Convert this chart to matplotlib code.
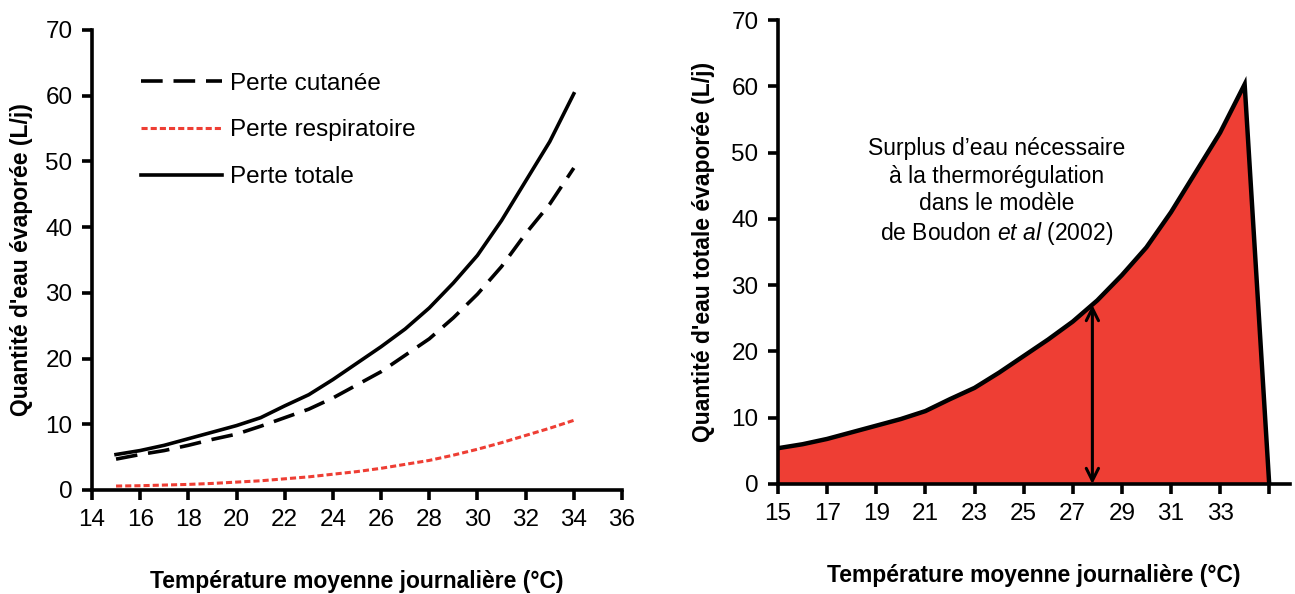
import numpy as np
import matplotlib
matplotlib.use("Agg")
import matplotlib.pyplot as plt

plt.rcParams['font.family'] = ['Liberation Sans', 'DejaVu Sans']
plt.rcParams['mathtext.fontset'] = 'custom'
plt.rcParams['mathtext.rm'] = 'Liberation Sans'
plt.rcParams['mathtext.it'] = 'Liberation Sans:italic'

# Data
temp = [15, 16, 17, 18, 19, 20, 21, 22, 23, 24, 25, 26, 27, 28, 29, 30, 31, 32, 33, 34]
perte_totale = [5.4, 6.0, 6.8, 7.8, 8.8, 9.8, 11.0, 12.8, 14.5, 16.8, 19.3, 21.8,
                24.5, 27.7, 31.5, 35.7, 41.0, 47.0, 53.0, 60.3]
perte_cutanee = [4.7, 5.4, 6.0, 6.8, 7.7, 8.5, 9.7, 11.0, 12.3, 14.0, 16.0, 18.0,
                 20.5, 23.0, 26.2, 29.8, 34.0, 39.0, 43.5, 49.0]
perte_resp = [0.6, 0.65, 0.75, 0.85, 1.0, 1.2, 1.4, 1.7, 2.0, 2.4, 2.8, 3.3,
              3.9, 4.5, 5.3, 6.2, 7.2, 8.3, 9.4, 10.6]

# right panel: total curve then drop to zero at 35
temp_area = temp + [35]
total_area = perte_totale + [0]
arrow_x = 27.8
arrow_top = 27.0

red = '#ee3e34'
tick_fs = 17.5
label_fs = 16.5

fig = plt.figure(figsize=(12.95, 5.94), dpi=100)
ax1 = fig.add_axes([0.0710, 0.1751, 0.4093, 0.7744])
ax2 = fig.add_axes([0.6008, 0.1852, 0.3954, 0.7811])

# ---- left panel ----
ax1.plot(temp, perte_cutanee, color='black', lw=2.6, dashes=(6, 3), label='Perte cutanée')
ax1.plot(temp, perte_resp, color=red, lw=2.2, dashes=(2, 1), label='Perte respiratoire')
ax1.plot(temp, perte_totale, color='black', lw=2.6, label='Perte totale')
ax1.set_xlim(14, 36)
ax1.set_ylim(0, 70)
ax1.set_xticks(np.arange(14, 37, 2))
ax1.set_yticks(np.arange(0, 71, 10))
ax1.set_xlabel('Température moyenne journalière (°C)', fontsize=label_fs,
               fontweight='bold', labelpad=28)
ax1.set_ylabel("Quantité d'eau évaporée (L/j)", fontsize=label_fs,
               fontweight='bold', labelpad=9)
ax1.legend(loc='upper left', bbox_to_anchor=(0.052, 0.955), frameon=False,
           fontsize=tick_fs, handlelength=3.3, handletextpad=0.35, labelspacing=1.02)

# ---- right panel ----
ax2.fill_between(temp_area, total_area, color=red, lw=0)
ax2.plot(temp_area, total_area, color='black', lw=3.2, solid_joinstyle='miter')
ax2.annotate('', xy=(arrow_x, 0), xytext=(arrow_x, arrow_top),
             arrowprops=dict(arrowstyle='<->', color='black', lw=2.2,
                             mutation_scale=22, shrinkA=0, shrinkB=0))
ax2.text(23.9, 44.0,
         'Surplus d’eau nécessaire\nà la thermorégulation\ndans le modèle\n'
         r'de Boudon $\mathit{et\ al}$ (2002)',
         ha='center', va='center', fontsize=tick_fs - 1, linespacing=1.25)
ax2.set_xlim(15, 35.85)
ax2.set_ylim(0, 70)
ax2.set_xticks(np.arange(15, 36, 2))
ax2.set_xticklabels([str(t) for t in range(15, 34, 2)] + [''])
ax2.set_yticks(np.arange(0, 71, 10))
ax2.set_xlabel('Température moyenne journalière (°C)', fontsize=label_fs,
               fontweight='bold', labelpad=28)
ax2.set_ylabel("Quantité d'eau totale évaporée (L/j)", fontsize=label_fs,
               fontweight='bold', labelpad=12)

for ax in (ax1, ax2):
    for side in ('top', 'right'):
        ax.spines[side].set_visible(False)
    for side in ('left', 'bottom'):
        ax.spines[side].set_linewidth(2.6)
    ax.tick_params(direction='out', length=7, width=2.6, labelsize=tick_fs, pad=7)

plt.savefig('out.png', dpi=100)
